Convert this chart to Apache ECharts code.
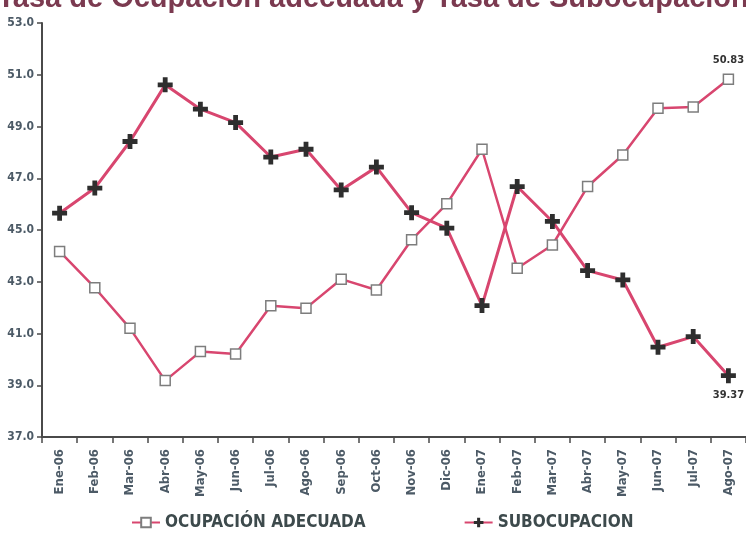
<!DOCTYPE html>
<html>
<head>
<meta charset="utf-8">
<script src="https://cdn.jsdelivr.net/npm/echarts@6/dist/echarts.min.js"></script>
<style>
  html, body { margin: 0; padding: 0; background: #fff; }
  #chart { width: 746px; height: 540px; }
</style>
</head>
<body>
<div id="chart"></div>
<script>
// Monthly periods
const months = ['Ene-06','Feb-06','Mar-06','Abr-06','May-06','Jun-06','Jul-06','Ago-06','Sep-06','Oct-06',
                'Nov-06','Dic-06','Ene-07','Feb-07','Mar-07','Abr-07','May-07','Jun-07','Jul-07','Ago-07'];

// Tasa de ocupación adecuada (%)
const ocupacionAdecuada = [44.17, 42.77, 41.20, 39.18, 40.30, 40.21, 42.07, 41.98, 43.10, 42.68,
                           44.62, 46.01, 48.12, 43.52, 44.42, 46.68, 47.90, 49.71, 49.75, 50.83];

// Tasa de subocupación (%)
const subocupacion = [45.65, 46.62, 48.42, 50.61, 49.67, 49.15, 47.82, 48.12, 46.55, 47.43,
                      45.67, 45.07, 42.08, 46.68, 45.33, 43.43, 43.07, 40.47, 40.88, 39.37];

const seriesNames = ['OCUPACIÓN ADECUADA', 'SUBOCUPACION'];
const titleText = 'Tasa de Ocupación adecuada y Tasa de Subocupación';

const lineColor = '#d8466f';
const narrowFont = '"Liberation Sans Narrow", "DejaVu Sans Condensed", "Liberation Sans", sans-serif';
const plusPath = 'path://M3.4,0H6.6V3.4H10V6.6H6.6V10H3.4V6.6H0V3.4H3.4Z';

// Show the value label only on the last point of each series
function withEndLabel(values, position) {
  return values.map((v, i) => i === values.length - 1
    ? { value: v, label: { show: true, position: position, formatter: (p) => p.value.toFixed(2) } }
    : v);
}

const chart = echarts.init(document.getElementById('chart'));
chart.setOption({
  animation: false,
  backgroundColor: '#ffffff',
  title: {
    text: titleText,
    left: 'center',
    top: -21,
    textStyle: { color: '#7b3a50', fontSize: 29, fontWeight: 'bold', fontFamily: '"Liberation Sans", Arial, sans-serif' }
  },
  legend: {
    bottom: 4,
    left: 126,
    itemGap: 98,
    itemWidth: 28,
    itemHeight: 12,
    textStyle: { color: '#3d4a4c', fontSize: 17, fontWeight: 'bold', fontFamily: narrowFont },
    data: seriesNames
  },
  grid: { left: 42, top: 23, width: 710, height: 414 },
  xAxis: {
    type: 'category',
    data: months,
    axisLine: { lineStyle: { color: '#4a4a4a', width: 2 } },
    axisTick: { show: true, length: 6, lineStyle: { color: '#4a4a4a', width: 1.5 } },
    axisLabel: {
      rotate: 90, interval: 0, margin: 12,
      color: '#4c5a66', fontSize: 13, fontWeight: 'bold', fontFamily: narrowFont
    },
    splitLine: { show: false }
  },
  yAxis: {
    type: 'value',
    min: 37, max: 53, interval: 2,
    axisLine: { show: true, lineStyle: { color: '#4a4a4a', width: 2 } },
    axisTick: { show: true, length: 5, lineStyle: { color: '#4a4a4a', width: 1.5 } },
    axisLabel: {
      margin: 8, color: '#4c5a66', fontSize: 12, fontWeight: 'bold', fontFamily: narrowFont,
      formatter: (v) => v.toFixed(1)
    },
    splitLine: { show: false }
  },
  series: [
    {
      name: seriesNames[0],
      type: 'line',
      data: withEndLabel(ocupacionAdecuada, 'top'),
      symbol: 'rect',
      symbolSize: 10,
      lineStyle: { color: lineColor, width: 2.5 },
      itemStyle: { color: '#ffffff', borderColor: '#7d7d7d', borderWidth: 1.5 },
      label: { color: '#333', fontSize: 11, fontWeight: 'bold', fontFamily: narrowFont, distance: 8 },
      z: 2
    },
    {
      name: seriesNames[1],
      type: 'line',
      data: withEndLabel(subocupacion, 'bottom'),
      symbol: plusPath,
      symbolSize: 15,
      lineStyle: { color: lineColor, width: 3 },
      itemStyle: { color: '#2e2e2e', borderWidth: 0 },
      label: { color: '#333', fontSize: 11, fontWeight: 'bold', fontFamily: narrowFont, distance: 6 },
      z: 3
    }
  ]
});
</script>
</body>
</html>
